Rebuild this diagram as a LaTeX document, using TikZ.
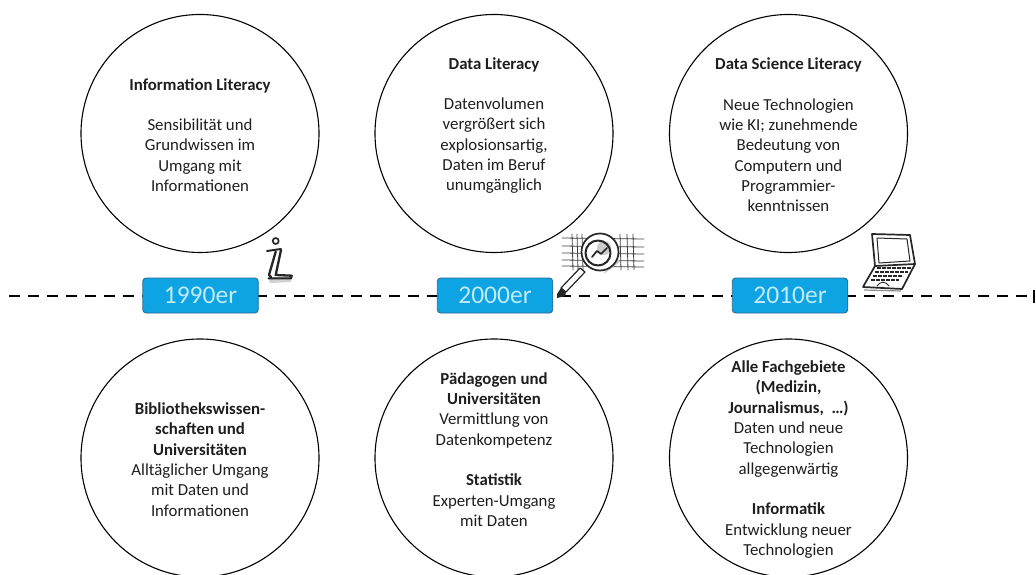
\documentclass[tikz,border=0pt]{standalone}
\usepackage{fontspec}
\setmainfont{Carlito}
\definecolor{erafill}{RGB}{14,163,226}
\definecolor{eraline}{RGB}{45,105,145}
\definecolor{eratext}{RGB}{190,236,250}
\definecolor{inktext}{RGB}{30,30,30}
\tikzset{
  x=1pt,y=-1pt,
  bubble/.style={circle,draw=black,line width=1.1pt,minimum size=238pt,inner sep=0pt},
  bubbletext/.style={inner sep=0pt,align=center,text=inktext,font=\fontsize{16.8}{20.3}\selectfont},
  era/.style={rectangle,rounded corners=3.5pt,draw=eraline,fill=erafill,line width=0.9pt,minimum width=115.5pt,minimum height=35pt,inner sep=0pt,text=eratext,font=\fontsize{25.5}{28}\selectfont},
  timeline/.style={line width=2.4pt,dash pattern=on 11pt off 8pt},
  sketch/.style={line width=1.4pt,black!85,line cap=round,line join=round},
  fine sketch/.style={line width=0.8pt,black!75,line cap=round},
}
\begin{document}
\begin{tikzpicture}
\useasboundingbox (0,0) rectangle (1036,575);
\clip (0,0) rectangle (1036,575);
\coordinate (tlstart) at (9,296);
\coordinate (tlend) at (1034,296);
\coordinate (capa) at (1034,290);
\coordinate (capb) at (1034,303);
\draw[timeline] (tlstart) -- (tlend);
\draw[line width=2.2pt] (capa) -- (capb);
\node[era] (e1) at (200.5,295.5) {1990er};
\node[era] (e2) at (495,295.5) {2000er};
\node[era] (e3) at (790,295.5) {2010er};
\node[bubble] (t1) at (200,133.5) {};
\node[bubble] (t2) at (494,133.5) {};
\node[bubble] (t3) at (788.5,133.5) {};
\node[bubble] (b1) at (200,458) {};
\node[bubble] (b2) at (494,458) {};
\node[bubble] (b3) at (788.5,458) {};
\node[bubbletext] (t1t) at (200,135) {\textbf{Information Literacy}\\[20.3pt]Sensibilität und\\Grundwissen im\\Umgang mit\\Informationen};
\node[bubbletext] (t2t) at (494,125.5) {\textbf{Data Literacy}\\[20.3pt]Datenvolumen\\vergrößert sich\\explosionsartig,\\Daten im Beruf\\unumgänglich};
\node[bubbletext] (t3t) at (788.5,135) {\textbf{Data Science Literacy}\\[20.3pt]Neue Technologien\\wie KI; zunehmende\\Bedeutung von\\Computern und\\Programmier-\\kenntnissen};
\node[bubbletext] (b1t) at (200,459.5) {\textbf{Bibliothekswissen-}\\\textbf{schaften und}\\\textbf{Universitäten}\\Alltäglicher Umgang\\mit Daten und\\Informationen};
\node[bubbletext] (b2t) at (494,449.5) {\textbf{Pädagogen und}\\\textbf{Universitäten}\\Vermittlung von\\Datenkompetenz\\[20.3pt]\textbf{Statistik}\\Experten-Umgang\\mit Daten};
\node[bubbletext] (b3t) at (788.5,459.5) {\textbf{Alle Fachgebiete}\\\textbf{(Medizin,}\\\textbf{Journalismus,~ …)}\\Daten und neue\\Technologien\\allgegenwärtig\\[20.3pt]\textbf{Informatik}\\Entwicklung neuer\\Technologien};
% info icon
\fill[black!18] (268,277) -- (292,277) -- (291,282) -- (270,283) -- cycle;
\draw[sketch,line width=1.7pt] (275.7,241) circle (3pt);
\draw[sketch,line width=2pt] (267,251) -- (281,249);
\draw[sketch,line width=2.3pt] (275.7,251.7) -- (269,275) -- (271,277);
\draw[sketch,line width=2.3pt] (281,250) -- (275.7,275) -- (291.7,275.7);
\draw[sketch,line width=2.1pt] (268.5,278.3) -- (291,278.3) -- (291.7,275.7);
% magnifier icon
\foreach \x in {572,577,582,620,627,633} \draw[fine sketch] (\x,234) -- (\x+1,270);
\foreach \y in {238,246,253,260,266} \draw[fine sketch] (562,\y) -- (644,\y+1);
\fill[black!20] (604,274) -- (620,262) -- (614,252) -- cycle;
\fill[white] (600,252) circle (19pt);
\draw[sketch,line width=1.7pt] (600,252) circle (18.5pt);
\fill[black!20] (604,248) circle (7pt);
\draw[sketch,line width=2pt] (598,253) circle (12.5pt);
\draw[sketch,line width=1.7pt] (592,257) -- (597,251) -- (601,254) -- (607,248);
\draw[sketch,line width=1.2pt,fill=white] (580,268) -- (585,272) -- (566,292) -- (561,288) -- cycle;
\fill[black!85] (561,288) -- (566,292) -- (565,296) -- (557,298) -- (557,294) -- cycle;
% laptop icon
\draw[sketch,line width=1.7pt] (872,234) -- (910,235) -- (915,264) -- (875,266) -- cycle;
\draw[sketch,line width=1pt] (877,238) -- (907,239) -- (910,261) -- (879,263) -- cycle;
\draw[sketch,line width=1.7pt] (875,266) -- (863,287) -- (902,289) -- (915,264);
\draw[black!45,line width=1.2pt] (864,290) -- (901,291);
\foreach \y/\a/\b in {268/877/911,272/875/908,276/873/903,280/871/899} \draw[black!85,line width=2.4pt,dash pattern=on 3.6pt off 1.4pt] (\a,\y) -- (\b,\y);
\draw[sketch,line width=0.9pt] (877,286) .. controls (880,281) and (886,281) .. (889,286);
\end{tikzpicture}
\end{document}
